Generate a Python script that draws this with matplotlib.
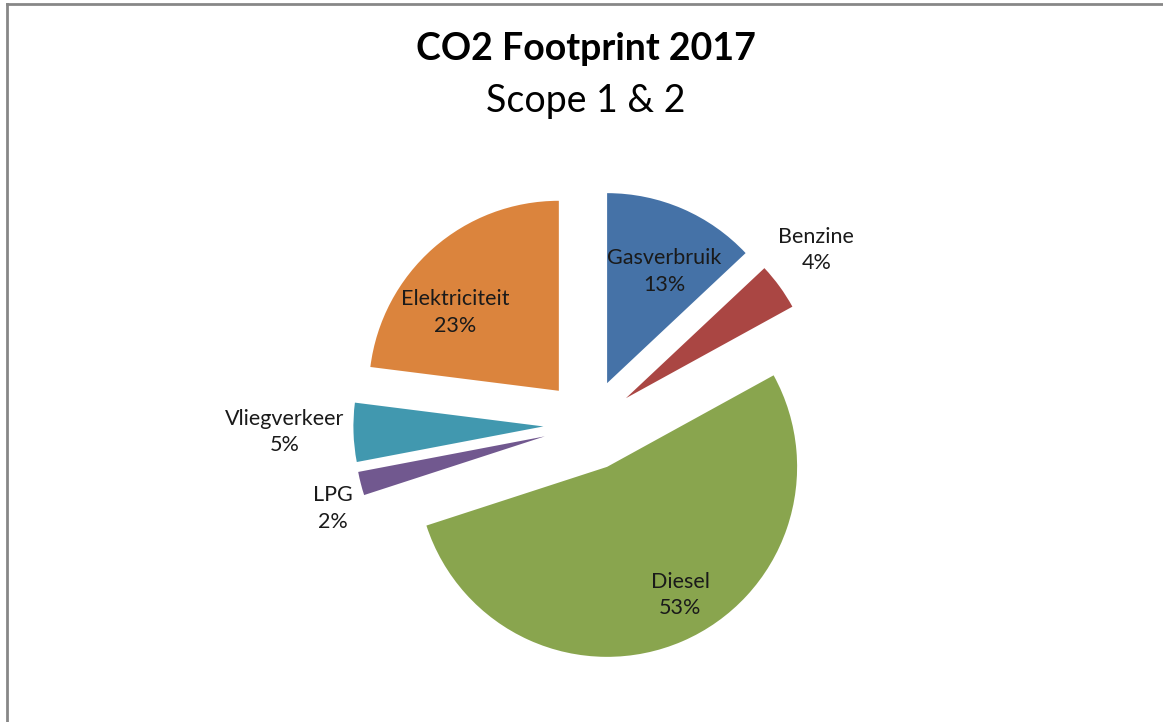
import matplotlib
matplotlib.use("Agg")
import matplotlib.pyplot as plt
from matplotlib.lines import Line2D
import numpy as np

categories = ["Gasverbruik", "Benzine", "Diesel", "LPG", "Vliegverkeer", "Elektriciteit"]
values = [13, 4, 53, 2, 5, 23]
colors = ["#4572A7", "#AA4643", "#89A54E", "#71588F", "#4198AF", "#DB843D"]

# label layout (distance from pie centre in radii, angular tweak in degrees, clockwise)
label_dist = [0.90, 1.51, 1.015, 1.42, 1.6, 0.92]
label_dang = [2.7, -1.6, -4.8, -3.6, 0.5, -8.6]

W, H = 1163, 722
fig = plt.figure(figsize=(W / 100, H / 100), dpi=100)
fig.patch.set_facecolor("white")
FONT = ["Lato", "DejaVu Sans"]

ax = fig.add_axes([0, 0, 1, 1])
R = 190.0  # pixels per radius
cx, cy = 589.0, 425.0
wedges, _ = ax.pie(values, colors=colors, startangle=90, counterclock=False,
                   explode=[0.24] * len(values), radius=1.0,
                   wedgeprops=dict(linewidth=0))
ax.set_aspect("auto")
ax.set_xlim(-cx / R, (W - cx) / R)
ax.set_ylim(-(H - cy) / R, cy / R)
ax.axis("off")

for w, name, v, d, da in zip(wedges, categories, values, label_dist, label_dang):
    mid = np.deg2rad((w.theta1 + w.theta2) / 2 - da)
    x, y = d * np.cos(mid), d * np.sin(mid)
    ax.text(x, y, f"{name}\n{v}%", ha="center", va="center", fontsize=15.5,
            family=FONT, color="#1a1a1a", linespacing=1.4)

fig.text(0.5035, 1 - 49 / H, "CO2 Footprint 2017", ha="center", va="center",
         fontsize=27, fontweight="bold", family=FONT, color="black")
fig.text(0.5035, 1 - 101 / H, "Scope 1 & 2", ha="center", va="center",
         fontsize=27, family=FONT, color="black")

# frame (top and left edges visible)
fig.add_artist(Line2D([7 / W, 1], [1 - 3.5 / H, 1 - 3.5 / H], transform=fig.transFigure,
                      color="#878787", linewidth=2))
fig.add_artist(Line2D([7 / W, 7 / W], [0, 1 - 3.5 / H], transform=fig.transFigure,
                      color="#878787", linewidth=2))

fig.savefig("out.png", dpi=100)
